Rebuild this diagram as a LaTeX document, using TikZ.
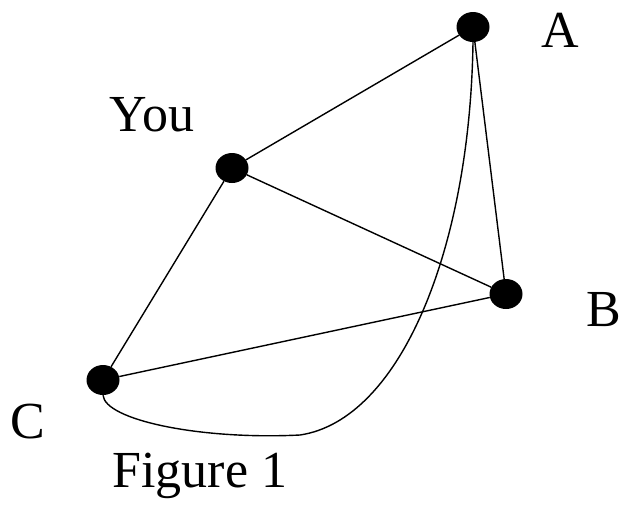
\documentclass[tikz,border=0pt]{standalone}
\usepackage{fontspec}
\setmainfont{Liberation Serif}
\usetikzlibrary{shapes.geometric, positioning}

\begin{document}
\begin{tikzpicture}[
    x=1pt, y=-1pt,
    dot/.style={ellipse, fill=black, inner sep=0pt, minimum width=33pt, minimum height=30pt},
    lbl/.style={font=\fontsize{52}{60}\selectfont, inner sep=0pt},
    edge/.style={line width=1.4pt}
]
\useasboundingbox (0,0) rectangle (623,504);

% Vertices
\node[dot] (a) at (473,27) {};
\node[dot] (you) at (232,168) {};
\node[dot] (b) at (506,294) {};
\node[dot] (c) at (103,380) {};

% Labels
\node[lbl] (alabel) at (560,30) {A};
\node[lbl] (youlabel) at (152,115) {You};
\node[lbl] (blabel) at (604,310) {B};
\node[lbl] (clabel) at (28,422) {C};
\node[lbl] (caption) at (200,476) {Figure 1};

% Edges
\draw[edge] (you) -- (a);
\draw[edge] (you) -- (b);
\draw[edge] (you) -- (c);
\draw[edge] (a) -- (b);
\draw[edge] (b) -- (c);
\coordinate (low) at (300,435);
\draw[edge] (a.south) .. controls (470,250) and (400,420) .. (low)
    .. controls (200,440) and (105,420) .. (c.south);

\end{tikzpicture}
\end{document}
